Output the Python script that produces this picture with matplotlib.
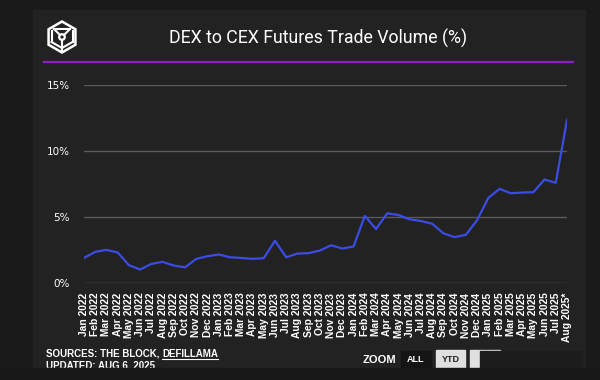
import matplotlib
matplotlib.use("Agg")
from matplotlib import pyplot as plt
from matplotlib.patches import Rectangle, RegularPolygon, Circle
from matplotlib.lines import Line2D

# monthly labels, Jan 2022 .. Aug 2025
years = [2022, 2023, 2024, 2025]
month_names = ["Jan", "Feb", "Mar", "Apr", "May", "Jun",
               "Jul", "Aug", "Sep", "Oct", "Nov", "Dec"]
months = [f"{m} {y}" for y in years for m in month_names][:44]
months[-1] = "Aug 2025*"

# DEX / CEX futures volume share, %
share = [1.90, 2.36, 2.51, 2.31, 1.35, 1.02, 1.45, 1.60, 1.32, 1.19,
         1.83, 2.03, 2.16, 1.95, 1.90, 1.83, 1.88, 3.20, 1.95, 2.23,
         2.26, 2.46, 2.86, 2.61, 2.77, 5.08, 4.09, 5.28, 5.15, 4.82,
         4.70, 4.49, 3.76, 3.48, 3.65, 4.77, 6.45, 7.13, 6.80, 6.85,
         6.88, 7.84, 7.59, 12.36]
y_ticks = [0, 5, 10, 15]

W, H = 600, 380
def fx(px):
    return px / W
def fy(py):
    return 1 - py / H

fig = plt.figure(figsize=(6, 3.8), dpi=100, facecolor="#1a1a1a")

# card background (behind the axes)
fig.patches.append(Rectangle((fx(33), fy(370)), fx(585) - fx(33), fy(10) - fy(370),
                             transform=fig.transFigure, color="#222222", zorder=-5))

ax = fig.add_axes([fx(84), fy(283), fx(567) - fx(84), fy(85) - fy(283)])
ax.set_facecolor("#222222")
x = list(range(len(share)))
ax.plot(x, share, color="#3b4ce6", lw=1.6, zorder=3)
ax.set_xlim(0, len(share) - 1)
ax.set_ylim(0, 15)
ax.set_yticks(y_ticks)
ax.set_yticklabels([f"{t}%" for t in y_ticks], color="white", fontsize=7.5,
                   family="DejaVu Sans")
ax.set_xticks(x)
ax.set_xticklabels(months, rotation=90, color="white", fontsize=7.4,
                   family="Liberation Sans", fontweight="bold")
ax.tick_params(length=0)
ax.tick_params(axis="x", pad=7)
ax.tick_params(axis="y", pad=10)
ax.grid(axis="y", color="#5a5a5a", lw=1)
ax.set_axisbelow(True)
for s in ax.spines.values():
    s.set_visible(False)

# title + purple rule
fig.text(fx(318), fy(38), "DEX to CEX Futures Trade Volume (%)", color="white",
         fontsize=12.8, family="Roboto", ha="center", va="center")
fig.add_artist(Line2D([fx(44), fx(573)], [fy(62), fy(62)], color="#8e1ec4",
                      lw=1.6, transform=fig.transFigure))

# logo: hexagonal cube
lx, ly = 62, H - 37
fig.patches.append(RegularPolygon((lx, ly), 6, radius=15.5, orientation=0,
                                  transform=None, fill=False, ec="white", lw=1.8))
fig.patches.append(Circle((lx, ly), 2.8, transform=None, fill=False,
                          ec="white", lw=1.6))
logo_segs = [((-8, 8), (8, 8)), ((-8, 8), (-2, 2)), ((8, 8), (2, 2)),
             ((-10.5, 6), (-10.5, -5)), ((10.5, 6), (10.5, -5)),
             ((-10.5, -5), (0, -11)), ((10.5, -5), (0, -11)),
             ((0, -3), (0, -15))]
for (ax0, ay0), (ax1, ay1) in logo_segs:
    fig.add_artist(Line2D([lx + ax0, lx + ax1], [ly + ay0, ly + ay1],
                          color="white", lw=1.5, transform=None))

# footer
fig.canvas.draw()
renderer = fig.canvas.get_renderer()
t1 = fig.text(fx(46), fy(354), "SOURCES: THE BLOCK, ", color="white", fontsize=7.0,
              family="Liberation Sans", fontweight="bold", va="center")
bb = t1.get_window_extent(renderer)
x2 = bb.x1 / W
t2 = fig.text(x2, fy(354), "DEFILLAMA", color="white", fontsize=7.0,
              family="Liberation Sans", fontweight="bold", va="center")
bb2 = t2.get_window_extent(renderer)
fig.add_artist(Line2D([x2, bb2.x1 / W], [fy(359), fy(359)], color="white",
                      lw=0.8, transform=fig.transFigure))
fig.text(fx(46), fy(366), "UPDATED: AUG 6, 2025", color="white", fontsize=7.0,
         family="Liberation Sans", fontweight="bold", va="center")

# zoom buttons
fig.text(fx(363), fy(360), "ZOOM", color="white", fontsize=8,
         family="Liberation Sans", fontweight="bold", va="center")
fig.patches.append(Rectangle((fx(401), fy(367)), fx(30), fy(0) - fy(16),
                             transform=fig.transFigure, color="#151515", zorder=1))
fig.text(fx(416), fy(360), "ALL", color="white", fontsize=6.5, ha="center",
         family="Liberation Sans", fontweight="bold", va="center", zorder=2)
fig.patches.append(Rectangle((fx(436), fy(368)), fx(29), fy(0) - fy(18),
                             transform=fig.transFigure, color="#e0e0e0", zorder=1))
fig.text(fx(450.5), fy(360), "YTD", color="#222222", fontsize=6.5, ha="center",
         family="Liberation Sans", fontweight="bold", va="center", zorder=2)
fig.patches.append(Rectangle((fx(470), fy(368)), fx(30), fy(0) - fy(18),
                             transform=fig.transFigure, color="#e0e0e0", zorder=1))
fig.patches.append(Rectangle((fx(480), fy(373)), fx(102), fy(0) - fy(22),
                             transform=fig.transFigure, color="#1c1c1c", zorder=3))

# dark band cutting the footer
fig.patches.append(Rectangle((0, 0), 1, fy(368), transform=fig.transFigure,
                             color="#181818", zorder=5))

fig.savefig("out.png", dpi=100, facecolor=fig.get_facecolor())
